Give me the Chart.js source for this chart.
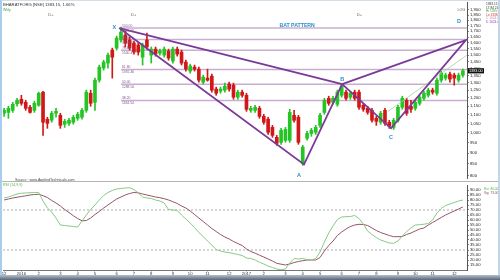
<!DOCTYPE html>
<html>
<head>
<meta charset="utf-8">
<title>BHARATFORG weekly - Bat pattern</title>
<script src="https://cdn.jsdelivr.net/npm/chart.js@4.4.1/dist/chart.umd.min.js"></script>
<style>
  html, body { margin: 0; padding: 0; background: #fff; }
  #wrap { position: relative; width: 500px; height: 280px; overflow: hidden; background: #fff; }
  canvas { position: absolute; left: 0; }
  #priceChart { top: 0; }
  #rsiChart { top: 181px; }
  .rule { position: absolute; left: 0; top: 181px; width: 500px; height: 1px; background: #b5b5b5; }
  .edge-t { position: absolute; left: 0; top: 0; width: 500px; height: 1px; background: #d5dde6; }
  .edge-l { position: absolute; left: 0; top: 0; width: 2px; height: 280px; background: #a9cdec; }
  .edge-r { position: absolute; right: 0; top: 0; width: 2px; height: 280px; background: #c3d6e8; }
  .edge-b { position: absolute; left: 0; bottom: 0; width: 500px; height: 5px; background: linear-gradient(#b4bfcc, #56677b); }
</style>
</head>
<body>
<div id="wrap">
  <canvas id="priceChart" width="500" height="183"></canvas>
  <canvas id="rsiChart" width="500" height="99"></canvas>
  <div class="rule"></div>
  <div class="edge-t"></div>
  <div class="edge-l"></div>
  <div class="edge-r"></div>
  <div class="edge-b"></div>
</div>
<script>
// weekly candles
const opens = [1108,1113,1125,1164,1192,1173,1143,1125,1155,1237,1074,1068,1108,1096,1046,1051,1057,1079,1085,1125,
  1230,1173,1317,1403,1440,1541,1557,1624,1667,1624,1599,1582,1485,1624,1501,1549,1517,1501,1533,1455,
  1549,1525,1447,1381,1410,1395,1303,1331,1345,1257,1243,1250,1290,1283,1205,1237,1217,1125,1125,1137,
  1090,1074,1029,977,952,962,962,1096,1085,853,972,997,1003,1040,1113,1198,1173,1161,1217,1237,
  1205,1237,1237,1155,1137,1125,1079,1057,1125,1057,1029,1068,1143,1186,1149,1137,1167,1198,1217,1250,
  1230,1317,1331,1359,1352,1317,1352];
const highs = [1137,1149,1173,1198,1217,1186,1155,1180,1237,1243,1085,1119,1137,1108,1074,1079,1096,1113,1137,1250,
  1250,1331,1425,1462,1517,1557,1658,1738,1702,1650,1616,1599,1599,1685,1566,1566,1549,1566,1549,1566,
  1566,1541,1462,1432,1425,1410,1352,1395,1359,1270,1270,1297,1303,1297,1250,1250,1230,1149,1155,1149,
  1102,1085,1040,987,1024,1029,1131,1125,1096,937,1008,1024,1040,1108,1198,1211,1211,1250,1283,1250,
  1243,1250,1250,1167,1149,1137,1090,1119,1137,1068,1079,1155,1211,1198,1186,1186,1217,1243,1263,1263,
  1331,1381,1366,1374,1366,1366,1395];
const lows = [1090,1079,1113,1149,1155,1125,1108,1113,1149,987,1024,1057,1085,1024,1029,1040,1046,1068,1074,1113,
  1149,1125,1303,1388,1403,1331,1541,1607,1566,1541,1509,1501,1425,1549,1440,1493,1501,1485,1462,1440,
  1493,1425,1381,1366,1381,1303,1290,1310,1237,1217,1230,1237,1243,1192,1192,1205,1119,1113,1113,1079,
  1046,992,977,937,942,952,952,1057,942,844,962,982,992,1029,1102,1155,1161,1149,1205,1186,
  1192,1186,1131,1119,1102,1057,1040,1046,1040,1024,1018,1057,1131,1096,1113,1125,1155,1186,1205,1224,
  1217,1303,1317,1303,1283,1303,1338];
const closes = [1125,1137,1161,1186,1167,1137,1113,1167,1230,1057,1051,1108,1119,1040,1062,1068,1085,1102,1125,1237,
  1167,1317,1410,1447,1501,1485,1641,1693,1599,1557,1525,1525,1582,1566,1549,1509,1533,1549,1478,1549,
  1509,1440,1395,1418,1395,1317,1338,1317,1250,1230,1257,1276,1257,1205,1237,1217,1131,1137,1143,1090,
  1057,1003,987,947,1013,1018,1113,1068,952,928,997,1013,1029,1096,1186,1167,1198,1237,1276,1198,
  1230,1198,1143,1131,1113,1068,1062,1108,1051,1035,1068,1143,1198,1108,1131,1173,1205,1230,1250,1237,
  1317,1366,1352,1324,1331,1352,1383];

// RSI panel
const rsiFast = [82,83,84.5,86,86.8,87,87.3,87.5,87.6,79,72,68,62,55,54.5,54,53.5,53,59,65,
  70.5,75,80,84.5,87.5,89.5,91,91.5,92,92.3,90.5,87,83,82,81.5,80,79,77,70.5,70,
  69.5,65,61,57,52.5,47.5,43.5,39,35,30.5,29,28,27.3,26.5,25.5,24.5,22,21.5,20,17.8,
  16,14,12.5,11,10.2,11,17,21.5,21,21.5,20.5,20,21.5,28,38,47,54,60.5,63,63.3,
  63.5,64.5,61.5,56,49,45.5,42.5,40,38.5,37,36.7,39,44,48.5,52,55,55.3,55.8,56.5,60,
  67,71.5,74.5,76,77.5,79,80];
const rsiSignal = [80,81,82,82.8,83.5,84.2,85,85.5,85.7,84.3,82.5,79.5,77,74,70.5,67.5,64.3,61.5,59.2,59.5,
  62,65.5,68.5,72,75,78,81,83,85,86.5,87.5,87.2,86,85,84,83,82.3,81.3,80,78.3,
  76.5,74,72,69,65.5,62,58.5,55,51.5,48.5,45.5,43,41,38.5,36.5,34.5,31,28.5,26.8,24.8,
  23,21,19,16.7,15.8,15,16,17.5,18.5,19.3,20,20,20,22.5,29,34.5,39,44.5,48,51,
  53.5,55,55.7,55.5,54.5,52,49.5,47.5,46,44.5,43.3,43.3,43.5,45.5,47,49,51,52,55,57.5,
  60,62.5,65,67,69,71,73];

// axes
const priceTicks = [800,850,900,950,1000,1050,1100,1150,1200,1250,1300,1350,1400,1450,1500,1550,1600,1650,1700,1750,1800,1850,1900];
const rsiTicks = [15,20,25,30,35,40,45,50,55,60,65,70,75,80,85,90];
const rsiBands = [70, 30];
const monthIdx = [0,4,8,13,17,21,26,30,34,39,43,47,52,56,60,65,69,73,78,82,86,91,95,99,104];
const monthText = ['12','2016','2','3','4','5','6','7','8','9','10','11','12','2017','2','3','4','5','6','7','8','9','10','11','12'];

// bat pattern X A B C D (bar index, price)
const patternName = ['X','A','B','C','D'];
const patternIdx = [26.6, 69.3, 78.1, 89.4, 106.7];
const patternPrice = [1729, 848, 1290, 1024, 1624];
const fibPct = ['100.00','88.60','78.60','61.80','50.00','38.20'];
const fibPrice = [1729.00, 1628.57, 1540.47, 1392.46, 1288.50, 1184.54];
const fibFrom = 27, fibTo = 106.95;
const guideIdx = [88.7, 106.9];
const guidePrice = [1119, 1501];

const FONT = '"Liberation Sans", Arial, sans-serif';
Chart.defaults.font.family = FONT;
const UP = '#25c425', DOWN = '#d01818';
const PURPLE = '#7b3a98';
const XMIN = -0.25, XMAX = 106.95;

const candleColor = closes.map((c, i) => c >= opens[i] ? UP : DOWN);
const wicks = closes.map((c, i) => ({ x: i, y: [lows[i], highs[i]] }));
const bodies = closes.map((c, i) => ({ x: i, y: [opens[i], c] }));
const pt = k => ({ x: patternIdx[k], y: patternPrice[k] });

const fibSets = fibPrice.map(p => ({
  type: 'line',
  data: [{ x: fibFrom, y: p }, { x: fibTo, y: p }],
  borderColor: 'rgba(165,120,180,0.6)', borderWidth: 1.5, pointRadius: 0
}));

function text(ctx, s, x, y, color, size, align, bold) {
  ctx.font = (bold ? 'bold ' : '') + size + 'px ' + FONT;
  ctx.fillStyle = color;
  ctx.textAlign = align || 'left';
  ctx.textBaseline = 'alphabetic';
  ctx.fillText(s, x, y);
}

const priceNotes = {
  id: 'priceNotes',
  afterDatasetsDraw(chart) {
    const { ctx, scales: { x, y } } = chart;
    ctx.save();
    text(ctx, 'BHARATFORG [NSE] 1383.15, 1.66%', 3, 6, '#333', 4.2);
    text(ctx, 'Wkly', 3, 10.5, '#3aa83a', 3.6);
    [10.2, 29.3, 81.5].forEach(i => text(ctx, 'D+', x.getPixelForValue(i), 15.5, '#666', 4.2));
    text(ctx, 'LOG', 465, 11, '#555', 3.6, 'right');
    text(ctx, 'BAT PATTERN', x.getPixelForValue(67.7), 27, '#2a8fc9', 5.2, 'center', true);

    fibPrice.forEach((p, k) => {
      const py = y.getPixelForValue(p);
      const px = x.getPixelForValue(fibFrom) + 1;
      text(ctx, fibPct[k], px, py - 1, '#7d5a8c', 3.4);
      text(ctx, p.toFixed(2), px, py + 4, '#7d5a8c', 3.4);
    });

    const offs = [[-5, 1], [-5, 13], [0, -3], [0, 11], [-7, -17]];
    patternName.forEach((n, k) => {
      const px = x.getPixelForValue(patternIdx[k]) + offs[k][0];
      const py = y.getPixelForValue(patternPrice[k]) + offs[k][1];
      text(ctx, n, px, py, '#2a8fc9', 5.5, 'center', true);
    });

    text(ctx, 'Source : www.AppliedTechnicals.com', 15, 181, '#444', 3.6);
    ctx.restore();
  },
  afterDraw(chart) {
    const { ctx, scales: { y } } = chart;
    const last = closes.length - 1;
    const py = y.getPixelForValue(closes[last]);
    ctx.save();
    ctx.fillStyle = '#111';
    ctx.fillRect(468, py - 2.6, 16, 5.2);
    text(ctx, closes[last].toFixed(2), 469, py + 1.6, '#fff', 3.8);
    const lx = 486;
    text(ctx, '1383.15', lx, 5, '#333', 3.2);
    text(ctx, '17.84 24 %', lx, 8.5, '#333', 3.2);
    text(ctx, 'Hi ' + highs[last].toFixed(1), lx, 12, '#3aa83a', 3.2);
    text(ctx, 'Lo ' + lows[last].toFixed(1), lx, 15.5, '#cc3333', 3.2);
    text(ctx, 'C ' + patternPrice[3].toFixed(1), lx, 19, '#d58ab0', 3.2);
    text(ctx, 'D ' + patternPrice[4].toFixed(1), lx, 22.5, '#8a4aa8', 3.2);
    ctx.restore();
  }
};

new Chart(document.getElementById('priceChart'), {
  type: 'bar',
  data: {
    datasets: [
      { type: 'line', data: [pt(0), pt(1), pt(2), pt(0)], borderColor: PURPLE, borderWidth: 1.8, pointRadius: 0, tension: 0 },
      { type: 'line', data: [pt(2), pt(3), pt(4), pt(2)], borderColor: PURPLE, borderWidth: 1.8, pointRadius: 0, tension: 0 },
      { type: 'line', data: [{ x: guideIdx[0], y: guidePrice[0] }, { x: guideIdx[1], y: guidePrice[1] }],
        borderColor: '#9fd49f', borderWidth: 0.8, pointRadius: 0 },
      { data: bodies, backgroundColor: candleColor, barThickness: 3, minBarLength: 1, grouped: false },
      { data: wicks, backgroundColor: candleColor, barThickness: 1, grouped: false },
      ...fibSets
    ]
  },
  options: {
    responsive: false,
    animation: false,
    events: [],
    layout: { padding: { left: 3, top: 2, right: 0, bottom: 5 } },
    plugins: { legend: { display: false }, tooltip: { enabled: false } },
    scales: {
      x: { type: 'linear', min: XMIN, max: XMAX, bounds: 'data', offset: false, display: false },
      y: {
        type: 'logarithmic', position: 'right', min: 790, max: 1981, bounds: 'data',
        afterBuildTicks: s => { s.ticks = priceTicks.map(v => ({ value: v })); },
        afterFit: s => { s.width = 33; s.paddingTop = 0; s.paddingBottom = 0; },
        grid: { display: true, drawOnChartArea: false, tickLength: 2, color: '#888' },
        border: { color: '#555', width: 1 },
        ticks: {
          autoSkip: false, padding: 1, color: '#222',
          font: { size: 4.2, lineHeight: 1 },
          callback: v => v.toLocaleString('en-US')
        }
      }
    }
  },
  plugins: [priceNotes]
});

const rsiNotes = {
  id: 'rsiNotes',
  afterDraw(chart) {
    const { ctx } = chart;
    const last = rsiFast.length - 1;
    ctx.save();
    text(ctx, 'RSI (14,9,9)', 3, 5, '#49b449', 3.6);
    text(ctx, 'Rsi  ' + rsiFast[last].toFixed(2), 484, 9, '#49b449', 3.2);
    text(ctx, 'Sig  ' + rsiSignal[last].toFixed(2), 484, 12.5, '#8e4f5f', 3.2);
    ctx.restore();
  }
};

new Chart(document.getElementById('rsiChart'), {
  type: 'line',
  data: {
    datasets: [
      { data: rsiFast.map((v, i) => ({ x: i, y: v })), borderColor: '#86c986', borderWidth: 1, pointRadius: 0, tension: 0 },
      { data: rsiSignal.map((v, i) => ({ x: i, y: v })), borderColor: '#955565', borderWidth: 1, pointRadius: 0, tension: 0 },
      ...rsiBands.map(b => ({
        data: [{ x: XMIN, y: b }, { x: XMAX, y: b }],
        borderColor: '#9a9a9a', borderWidth: 0.8, borderDash: [2, 2], pointRadius: 0
      }))
    ]
  },
  options: {
    responsive: false,
    animation: false,
    events: [],
    layout: { padding: { left: 3, top: 4, right: 0, bottom: 0 } },
    plugins: { legend: { display: false }, tooltip: { enabled: false } },
    scales: {
      x: {
        type: 'linear', min: XMIN, max: XMAX, bounds: 'data', offset: false, position: 'bottom',
        afterBuildTicks: s => { s.ticks = monthIdx.map(v => ({ value: v })); },
        afterFit: s => { s.height = 10; s.paddingLeft = 0; s.paddingRight = 0; },
        grid: { display: true, drawOnChartArea: false, tickLength: 1.5, color: '#888' },
        border: { color: '#777', width: 1 },
        ticks: {
          autoSkip: false, maxRotation: 0, padding: 0.5, color: '#333',
          font: { size: 4.2, lineHeight: 1 },
          callback: (v, i) => monthText[i]
        }
      },
      y: {
        position: 'right', min: 10, max: 95, bounds: 'data',
        afterBuildTicks: s => { s.ticks = rsiTicks.map(v => ({ value: v })); },
        afterFit: s => { s.width = 33; s.paddingTop = 0; s.paddingBottom = 0; },
        grid: { display: true, drawOnChartArea: false, tickLength: 2, color: '#888' },
        border: { color: '#555', width: 1 },
        ticks: {
          autoSkip: false, padding: 1, color: '#222',
          font: { size: 4.2, lineHeight: 1 },
          callback: v => v.toFixed(2)
        }
      }
    }
  },
  plugins: [rsiNotes]
});
</script>
</body>
</html>
